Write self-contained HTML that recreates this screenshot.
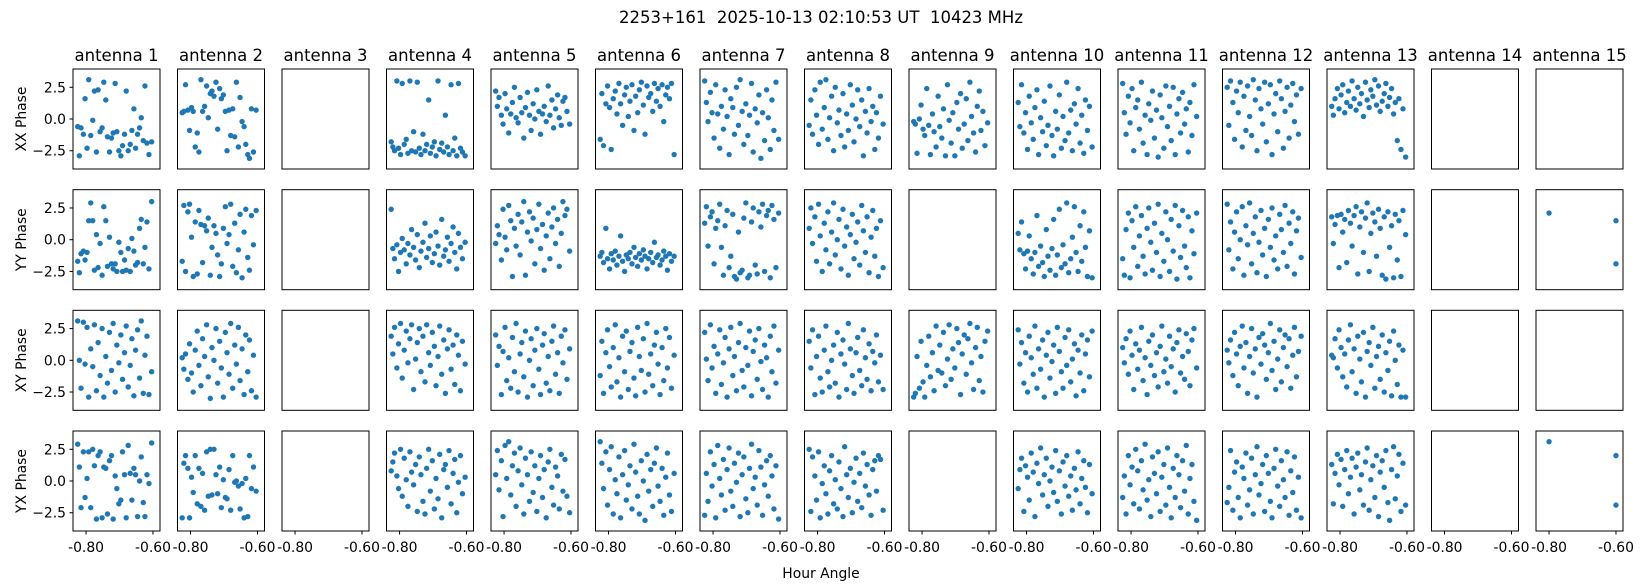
<!DOCTYPE html>
<html><head><meta charset="utf-8">
<style>
html,body{margin:0;padding:0;background:#fff;}
svg{display:block;font-family:"DejaVu Sans","Liberation Sans",sans-serif;}
</style></head>
<body>
<svg id="chart" width="1643" height="586" viewBox="0 0 1643 586" xmlns="http://www.w3.org/2000/svg">
<text x="821" y="23" font-size="16.5" text-anchor="middle" style="white-space:pre" xml:space="preserve">2253+161  2025-10-13 02:10:53 UT  10423 MHz</text>
<text x="821" y="578" font-size="13.9" text-anchor="middle">Hour Angle</text>
</svg>
<script>
const antennas = ["antenna 1","antenna 2","antenna 3","antenna 4","antenna 5","antenna 6","antenna 7","antenna 8","antenna 9","antenna 10","antenna 11","antenna 12","antenna 13","antenna 14","antenna 15"];
const rowLabels = ["XX Phase","YY Phase","XY Phase","YX Phase"];
const xTicks = [-0.80, -0.60];
const xTickLabels = ["-0.80","-0.60"];
const yTicks = [2.5, 0.0, -2.5];
const yTickLabels = ["2.5","0.0","\u22122.5"];
const times = [-0.825,-0.820,-0.815,-0.808,-0.803,-0.797,-0.792,-0.786,-0.780,-0.775,-0.769,-0.764,-0.758,-0.752,-0.747,-0.741,-0.736,-0.730,-0.724,-0.719,-0.713,-0.708,-0.702,-0.696,-0.691,-0.685,-0.680,-0.674,-0.668,-0.663,-0.657,-0.652,-0.646,-0.640,-0.635,-0.629,-0.624,-0.618,-0.612,-0.604];
const ant15Times = [-0.80,-0.60,-0.60];
const ant15YY = [2.1,1.5,-1.9];
const ant15YX = [3.1,2.0,-1.9];

const xxPhase = [
[-0.6,-2.9,-0.7,-1.2,1.6,-2.3,3.1,-1.3,-0.1,2.2,-2.6,2.3,-1.0,-0.7,2.9,1.5,-1.4,-2.6,-1.5,-1.1,2.8,-1.0,-2.5,-2.9,-2.1,-1.2,2.2,-2.5,-2.0,-0.9,0.8,-2.3,-1.2,-0.7,0.1,-1.7,2.6,-1.9,-2.8,-1.8],
[0.5,0.6,2.7,0.7,-0.9,0.9,0.6,-2.2,-1.1,-2.6,3.1,0.6,1.0,2.6,0.1,2.0,2.2,1.8,2.9,-0.8,2.4,1.6,1.9,0.6,-2.5,0.7,-1.3,0.8,-1.4,2.9,-2.2,1.7,-0.2,-0.6,-2.0,-2.8,-3.1,0.8,-2.6,0.7],
null,
[-1.8,-2.2,-2.5,3.0,-2.3,-2.8,2.8,-2.0,-1.6,-2.7,3.0,-2.5,-1.0,-2.6,2.9,-2.3,-2.8,-1.2,-2.5,-2.0,1.5,-2.7,-2.2,-1.8,-2.9,3.0,-2.4,-1.9,-2.6,0.3,-2.2,-2.8,2.7,-2.5,-1.5,-2.9,2.8,-2.3,-2.6,-2.9],
[2.2,1.0,1.7,0.3,-0.4,2.0,0.8,-1.1,0.4,1.3,2.5,0.1,-0.3,1.7,0.5,-1.5,0.9,2.1,0.3,-0.9,1.2,0.0,2.3,0.6,-1.2,0.4,1.0,-0.2,2.6,0.3,1.5,-0.7,0.8,1.9,0.1,-0.5,1.4,1.7,0.6,-0.4],
[-1.6,2.0,-2.1,1.2,2.6,0.9,-2.4,1.6,2.2,0.4,2.8,1.2,-0.5,1.9,2.5,0.2,1.4,2.7,-0.9,1.8,0.5,2.3,2.9,1.1,-1.2,2.6,1.7,2.0,0.6,2.8,1.4,2.4,1.0,2.7,-0.2,1.9,2.5,1.6,2.8,-2.8],
[3.0,1.3,-0.2,2.1,0.5,-1.5,2.7,0.4,-2.3,1.0,-0.8,2.3,0.2,-2.8,1.6,0.9,-1.2,2.5,-0.5,3.1,0.6,-2.0,1.2,-1.3,0.3,2.8,-2.6,0.8,-0.3,1.9,-3.1,0.5,-1.7,2.3,0.1,-2.4,1.5,-0.9,2.9,-1.6],
[-0.5,1.5,-1.2,2.3,0.3,-2.0,2.9,-0.8,0.9,3.1,-1.6,0.1,1.8,-2.5,2.5,-0.3,0.7,-1.3,2.0,-2.2,0.4,-0.9,2.7,1.1,-1.8,0.0,2.3,-0.6,1.5,-2.9,0.6,-1.1,2.4,-0.2,1.0,-2.4,0.5,-1.5,1.8,-0.4],
[-0.2,-0.4,-2.7,0.0,1.1,-0.8,-1.3,2.4,-0.5,-2.8,0.4,-1.0,-2.2,1.8,-0.6,-1.5,0.8,-2.9,2.7,-0.1,-1.9,0.5,-2.9,1.3,-0.8,2.0,-2.3,-0.4,1.6,-1.7,2.9,0.2,-1.1,-2.6,1.0,2.2,-0.9,0.6,-2.1,-0.3],
[1.3,-0.6,2.7,-1.1,0.5,-2.4,1.8,-0.3,-1.6,0.9,2.3,-2.8,0.1,-1.0,1.4,-2.1,-0.5,2.6,-1.3,-2.9,0.6,-0.8,1.9,-2.3,0.2,-1.7,2.9,-1.1,0.7,-2.5,1.2,-0.4,2.4,-1.9,0.3,-2.7,1.5,-0.9,1.0,-2.2],
[2.8,0.5,-1.2,1.8,-0.3,2.4,-2.5,0.9,1.5,-0.8,2.9,-1.9,0.3,-2.8,1.2,-0.1,2.2,-1.5,0.7,-3.0,1.9,0.1,-2.3,2.6,-0.6,1.0,-1.7,2.5,-2.8,0.4,1.6,-1.1,2.1,-0.4,0.8,-2.6,1.3,-1.3,2.7,0.2],
[2.5,-0.5,3.0,1.3,-1.6,2.2,0.5,2.9,-2.2,1.8,-0.9,2.6,0.2,-1.3,3.1,1.5,-2.5,2.4,0.8,-0.4,2.9,-1.8,1.2,2.7,-2.8,0.4,2.0,-1.0,3.0,1.6,-2.3,0.6,2.5,-1.5,1.1,2.8,-0.2,1.9,-1.2,2.4],
[1.0,0.3,1.6,2.4,0.8,1.9,2.7,0.5,1.3,2.2,1.0,3.0,1.6,0.7,2.5,1.2,2.0,0.2,2.9,1.5,0.9,2.3,1.8,3.1,1.1,2.6,0.6,1.4,2.0,2.8,1.0,1.7,2.4,0.4,1.3,-1.7,1.6,-2.4,0.8,-3.0],
null, null];

const yyPhase = [
[-1.7,-2.6,-1.1,-0.9,-1.6,-1.0,1.5,2.9,1.5,-2.4,0.4,-2.2,-0.3,-2.8,2.6,1.5,-2.1,0.2,-1.9,-2.3,-1.9,-2.5,-0.2,-1.0,-2.5,-1.6,-2.4,-0.7,-2.5,0.1,-0.9,-2.0,-1.8,0.9,1.6,-1.9,-0.6,1.4,-2.3,3.0],
[-1.7,2.7,-2.5,2.2,2.8,0.2,-2.9,1.4,-2.7,2.3,1.2,-1.8,1.1,0.7,1.7,-2.8,-0.6,1.1,0.5,-1.2,-2.9,-1.9,0.9,2.6,-0.3,0.4,2.8,-2.1,1.3,-2.6,-0.8,2.0,-3.0,0.6,2.4,-1.4,-2.4,1.9,-0.4,2.3],
null,
[2.4,-0.7,-1.5,-0.4,-2.5,-1.0,0.1,-0.8,-1.9,-0.3,-1.2,0.8,-0.6,-1.6,0.4,-2.2,-0.9,-0.2,1.3,-1.4,-0.7,0.3,-1.8,-1.1,0.6,-0.5,-2.0,1.6,-1.3,-0.8,0.2,-1.7,-0.3,1.0,-1.0,-2.3,0.5,-0.6,-1.5,-0.2],
[-0.3,1.1,0.4,-1.6,2.4,0.2,-0.8,2.7,1.5,-2.9,0.9,-0.5,2.0,-1.2,1.4,3.0,-2.8,0.6,2.2,-0.1,1.7,-1.9,0.8,2.8,-0.7,1.2,-2.4,0.3,2.1,-1.5,1.0,2.5,-0.3,1.6,-2.1,0.5,3.0,1.9,2.4,-0.9],
[-1.3,-1.0,-1.8,0.9,-1.5,-2.3,-1.1,-1.6,-0.9,-2.0,-1.3,0.3,-1.7,-2.5,-1.2,-1.5,-1.0,-1.9,-0.6,-1.4,-2.1,-1.1,-1.6,-0.8,-1.3,-2.3,-1.5,-1.0,-1.8,-0.2,-1.4,-1.2,-2.0,-1.6,-0.9,-1.3,-2.4,-1.1,-1.7,-1.3],
[1.3,2.6,-0.5,1.8,2.2,-1.9,0.9,1.5,2.8,-0.6,-2.8,1.1,2.3,-2.2,-1.3,2.0,-2.9,-3.1,0.6,-2.6,-2.4,1.7,2.9,-3.0,-2.8,1.4,2.5,-2.0,-2.7,2.2,1.0,2.8,-2.5,1.9,2.3,-3.0,2.7,1.6,-2.2,2.1],
[0.9,2.5,-0.3,1.8,-1.7,2.8,0.3,-2.5,1.3,-0.8,2.2,-1.9,0.6,2.9,-1.2,0.0,1.6,-2.3,2.4,-0.5,1.0,-2.8,0.4,2.0,-1.5,-0.2,1.4,-2.0,2.7,0.7,-1.0,1.8,-2.6,0.2,2.3,-1.3,0.9,-2.9,1.5,-2.2],
null,
[0.5,-0.8,1.4,-1.1,-2.3,-0.9,0.3,-1.5,-2.7,-1.0,1.9,-2.1,-0.5,-1.8,-2.9,0.8,-1.3,-2.4,-0.7,1.6,-2.8,-1.2,2.4,-2.2,-0.4,-1.9,2.9,-2.6,-1.5,0.2,2.6,-1.0,-2.5,1.1,-1.7,2.2,-0.6,-2.9,0.7,-3.0],
[-1.5,-2.8,0.8,2.1,-3.0,1.5,-0.6,2.6,-2.1,0.3,1.9,-1.3,-2.7,0.9,2.5,-0.2,-2.4,1.3,-1.0,2.8,-2.9,0.5,-1.7,2.2,0.0,-2.5,1.6,-0.9,2.7,-3.1,1.1,-1.4,2.3,-0.5,-2.2,1.8,-3.0,0.7,-1.1,2.1],
[2.8,-0.8,1.4,-2.3,0.6,2.2,-1.5,0.0,2.6,-2.8,1.1,-0.4,2.9,-1.9,0.5,1.8,-2.6,-0.2,2.3,-1.2,0.9,-2.9,1.6,-0.6,2.5,-1.6,0.3,-2.3,2.0,0.8,-1.0,2.7,-2.1,1.3,-0.3,2.2,-2.7,0.7,1.7,-1.4],
[1.8,-0.3,1.2,1.9,-2.2,2.0,0.6,1.6,-1.8,2.3,1.3,-0.5,1.9,2.6,-2.7,1.0,2.2,-1.0,1.7,2.9,-2.5,0.5,2.1,1.4,-1.3,2.4,0.9,-2.8,1.8,-3.1,2.2,-0.6,1.1,-3.0,2.0,-1.6,1.5,-2.9,2.3,0.4],
null, "ant15"];

const xyPhase = [
[3.1,0.0,-2.2,3.0,-0.3,2.6,-2.9,0.9,-0.5,2.8,-2.4,1.4,-1.2,2.5,-2.9,0.3,-1.8,2.2,-0.8,2.9,-2.5,1.2,-0.2,2.0,-1.5,0.6,2.7,-2.1,-0.4,1.7,-2.8,0.8,2.4,-1.4,3.1,-2.6,0.4,1.9,-2.7,-0.9],
[0.2,-0.7,0.5,-1.5,1.3,-1.0,-2.5,0.8,2.3,-0.4,-2.0,1.7,0.3,2.8,-1.3,-3.0,1.0,0.0,2.5,-1.8,1.5,-0.6,-2.9,2.2,0.6,-1.1,2.9,-2.2,1.2,-0.3,2.6,-1.6,0.9,-2.7,2.0,-0.9,1.6,-2.4,0.4,-2.9],
null,
[1.9,0.5,2.6,-0.6,1.3,2.9,-1.4,0.8,2.3,-0.2,1.7,2.8,-2.3,0.1,1.4,2.5,-0.9,1.9,-1.7,2.8,0.6,-0.4,2.2,1.1,-2.0,0.3,2.7,-1.1,1.6,-2.6,0.9,2.4,-0.7,1.2,-1.9,2.0,0.4,-2.4,1.5,-0.3],
[2.0,-0.4,1.1,-2.7,0.7,2.6,-1.6,0.2,-2.2,1.8,-0.9,2.9,-2.5,0.5,1.4,-1.3,2.3,-2.9,0.0,1.7,-2.0,0.8,2.5,-0.7,-2.7,1.2,2.1,-1.8,0.3,-2.4,1.5,2.7,-1.1,0.6,-2.6,1.9,-0.2,2.4,-1.5,0.9],
[-1.2,1.5,-2.6,0.6,2.4,-0.5,-2.1,1.0,2.8,-1.7,0.2,-2.9,1.9,-0.9,2.3,-2.3,0.7,1.4,-1.4,-2.8,2.6,0.3,-0.8,1.7,-2.5,2.9,-1.1,0.5,-2.0,1.2,2.2,-0.3,-2.7,1.0,-1.6,2.5,-0.6,1.8,-2.2,0.4],
[2.2,0.1,-1.6,2.8,-0.6,1.1,-2.6,0.5,2.4,-1.9,-0.2,1.8,-2.9,0.9,2.6,-1.2,0.3,-2.4,1.4,2.9,-0.8,-2.1,1.0,-0.4,2.3,-2.8,0.7,1.6,-1.5,2.5,-0.1,-2.3,1.2,0.2,-2.9,1.9,-0.9,2.7,-1.8,0.8],
[1.5,-0.6,2.4,-2.7,0.3,1.9,-1.4,-2.5,0.8,2.7,-0.9,-2.1,0.0,1.2,-1.8,2.2,-2.9,0.5,1.6,-0.3,-2.3,2.9,0.9,-1.2,-2.6,0.6,1.8,-0.8,-2.0,2.4,0.2,-1.5,1.3,-2.4,0.7,-0.2,2.0,-1.7,0.4,-2.3],
[-2.9,-2.6,0.3,-2.2,1.5,-1.7,-2.9,-0.4,1.9,-1.3,0.6,-2.4,2.7,-0.8,1.2,-1.0,2.2,-2.0,0.1,2.8,-1.5,0.9,-0.6,2.5,1.4,-2.7,0.5,2.0,-1.1,1.7,2.9,-0.2,-2.3,1.0,2.6,-1.6,0.3,-2.5,1.5,2.3],
[2.4,-0.3,1.4,-1.8,0.6,-2.5,1.9,0.2,-1.1,2.7,-2.2,0.9,-0.7,1.6,-2.9,0.4,2.2,-1.4,-0.1,1.2,-2.6,2.6,0.7,-0.9,-2.2,1.8,-0.4,2.4,-1.7,0.1,1.3,-2.8,0.8,-1.0,2.0,-2.4,0.5,1.6,-1.3,2.3],
[1.0,-0.2,1.7,-1.1,2.3,0.4,-2.3,1.3,-0.7,0.8,2.6,-1.6,0.2,-2.7,1.5,-0.4,2.0,-1.2,0.6,-2.1,1.1,2.7,-0.9,0.1,-1.8,1.9,-0.5,0.9,-2.5,1.4,2.4,-1.0,0.3,-1.5,2.1,0.7,-2.0,1.6,2.5,-0.6],
[0.8,-0.2,1.6,-1.2,2.2,0.5,-2.0,1.1,2.7,-0.6,1.4,-2.6,0.3,2.5,-1.0,0.9,-2.9,1.8,-0.3,2.1,1.2,-1.5,0.6,2.9,-0.8,1.5,-2.3,0.1,2.4,-1.7,1.0,2.0,-0.5,1.7,-2.2,0.4,2.6,-1.3,0.7,1.9],
[0.4,0.2,1.7,-0.6,2.4,1.0,-1.3,0.5,-2.1,1.6,2.8,-0.9,0.9,-2.6,1.9,0.1,-1.7,2.2,-2.9,0.7,1.4,-0.4,2.6,-2.2,0.3,1.1,-1.5,2.0,-2.5,0.6,-0.8,1.5,-2.8,2.3,0.0,-1.9,1.2,-2.9,0.8,-2.9],
null, null];

const yxPhase = [
[2.9,1.1,-2.1,2.3,-1.3,0.2,2.3,-2.1,2.5,1.2,-3.0,2.0,2.3,-2.9,1.1,1.0,-2.6,1.6,2.0,-3.0,0.4,-0.6,-1.8,-1.5,2.3,0.5,-2.9,2.8,0.6,-1.5,1.0,0.5,-2.8,0.0,1.9,-1.7,-2.8,0.5,-0.2,3.0],
[-2.9,1.4,2.0,1.0,-2.9,0.3,-0.9,2.0,-1.8,1.0,-2.0,0.6,-2.3,2.3,-1.2,2.5,-1.1,2.5,0.5,-1.0,1.1,-2.1,0.1,-1.3,-1.4,0.9,-2.3,2.0,-0.1,0.0,-0.4,-2.2,-0.2,-2.9,0.2,-2.8,2.0,-0.6,1.1,-0.8],
null,
[0.8,1.5,2.2,0.4,-0.6,2.5,-1.2,1.8,0.1,-2.0,2.3,0.7,-0.3,1.3,-2.4,1.9,0.5,-1.6,-2.6,1.0,2.5,-0.8,1.6,-2.2,0.2,-1.4,2.1,-2.9,0.9,1.3,-0.5,2.4,-1.8,0.6,1.7,-2.5,-0.1,2.0,-1.0,0.3],
[0.5,2.4,-0.7,1.6,-2.8,2.8,0.2,3.1,-1.1,1.2,2.2,-2.0,0.8,2.6,-0.3,-2.6,1.8,0.5,-1.6,2.3,-0.9,1.2,-2.4,0.2,2.0,-1.3,0.9,-2.9,1.5,2.5,-0.5,-1.9,1.1,0.4,-2.2,2.1,-0.8,1.7,-1.2,-2.5],
[3.1,1.4,-0.6,2.3,-1.9,0.9,2.7,-2.6,0.1,-1.0,1.9,-2.9,0.5,2.4,-1.5,-0.3,1.2,-2.2,2.9,0.7,-1.2,-2.6,1.6,0.0,-3.1,2.1,-0.8,0.9,-2.0,1.4,2.6,-0.4,-1.6,1.0,-2.7,0.3,2.2,-1.1,-2.4,0.6],
[-2.7,0.6,-1.6,2.3,-0.4,1.3,-2.9,2.8,0.2,-1.1,1.7,-2.3,0.9,2.6,-0.8,-2.0,1.4,-0.1,2.2,-2.8,0.5,1.9,-1.4,-2.5,1.0,2.9,-0.6,0.3,-1.9,2.4,1.1,-2.7,-0.3,1.6,-1.2,2.0,0.4,-2.2,1.2,-3.0],
[2.5,-2.4,1.9,0.4,-1.5,2.3,-2.9,-0.2,1.2,-1.0,-2.6,0.8,2.0,-1.8,0.1,-2.2,1.5,-0.6,-2.8,2.7,0.5,-1.3,1.0,-2.5,-0.1,1.8,-1.6,0.6,-2.1,2.2,-0.4,1.3,-1.1,-2.7,0.9,1.6,-0.8,2.0,1.7,-2.3],
null,
[-0.6,0.9,1.8,-2.4,1.2,0.3,-1.5,2.2,0.7,-2.8,1.4,-0.2,2.6,-1.1,0.5,1.8,-2.0,0.0,1.1,-0.9,2.4,-1.6,0.8,-2.6,1.5,-0.4,2.0,-1.2,0.4,-2.3,1.0,-0.7,2.3,-1.8,0.2,1.6,-0.5,-2.5,1.3,-1.0],
[-1.3,0.4,-2.6,2.0,-0.3,1.1,-1.8,2.5,0.8,-2.2,1.6,-0.7,2.9,-1.5,0.1,-2.8,1.9,0.6,-1.0,2.3,-2.4,0.3,1.3,-1.9,2.6,-0.5,-2.9,1.0,-1.3,2.0,0.5,-2.1,1.6,-0.8,2.8,-2.6,0.2,1.3,-1.6,-3.1],
[-1.7,-0.5,2.4,-2.3,0.7,1.5,-1.3,-2.9,1.1,0.2,2.2,-1.9,-0.7,1.8,-2.6,0.5,2.7,-1.1,-0.2,1.3,-2.4,2.0,0.6,-1.6,-2.9,1.0,2.5,-0.4,-2.0,1.6,0.1,-1.3,2.3,-2.7,0.8,-0.9,1.9,-2.3,0.3,-2.9],
[1.3,-1.8,0.6,2.1,-0.3,1.7,-2.0,0.9,2.4,-1.0,0.3,1.8,-2.6,1.1,2.2,-0.7,0.5,-1.9,1.5,2.6,-2.3,0.1,1.2,-1.3,2.0,-2.8,0.7,1.6,-0.5,2.4,-1.7,-3.1,0.9,2.7,-1.4,0.4,2.1,-2.4,1.4,-1.9],
null, "ant15"];

const rowsData = [xxPhase, yyPhase, xyPhase, yxPhase];
const ant15Rows = [null, ant15YY, null, ant15YX];

const NS = "http://www.w3.org/2000/svg";
const svg = document.getElementById("chart");
const L0 = 73, PITCH = 104.5, PW = 87, PH = 100;
const ROW_TOPS = [69, 189.7, 310.3, 431];
const XMIN = -0.839, XMAX = -0.579, YMIN = -3.94, YMAX = 3.94;
function xScale(col, v){ return L0 + col*PITCH + (v - XMIN)/(XMAX - XMIN)*PW; }
function yScale(row, v){ return ROW_TOPS[row] + (YMAX - v)/(YMAX - YMIN)*PH; }
function mk(tag, attrs){ const e = document.createElementNS(NS, tag); for (const k in attrs) e.setAttribute(k, attrs[k]); return e; }

antennas.forEach((name, c) => {
  const t = mk("text", {x: L0 + c*PITCH + PW/2, y: 61, "font-size": 16.5, "text-anchor": "middle"});
  
  
  t.textContent = name;
  svg.appendChild(t);
});

rowLabels.forEach((lab, r) => {
  const cy = ROW_TOPS[r] + PH/2;
  const t = mk("text", {x: 22, y: cy, "font-size": 13.9, "text-anchor": "middle", transform: `rotate(-90 22 ${cy})`, "dominant-baseline": "middle"});
  
  
  t.textContent = lab;
  svg.appendChild(t);
  yTicks.forEach((v, i) => {
    const y = yScale(r, v);
    const tk = mk("line", {x1: L0 - 3.5, x2: L0, y1: y, y2: y, stroke: "#000", "stroke-width": 1});
    
    
    svg.appendChild(tk);
    const tl = mk("text", {x: L0 - 7, y: y + 5, "font-size": 13.9, "text-anchor": "end"});
    
    
    tl.textContent = yTickLabels[i];
    svg.appendChild(tl);
  });
});

for (let r = 0; r < 4; r++) {
  for (let c = 0; c < 15; c++) {
    const g = mk("g", {});
    
    
    const box = mk("rect", {x: L0 + c*PITCH, y: ROW_TOPS[r], width: PW, height: PH, fill: "none", stroke: "#000", "stroke-width": 1});
    
    
    g.appendChild(box);
    let ys = rowsData[r][c], xs = times;
    if (ys === "ant15") { ys = ant15Rows[r]; xs = ant15Times; }
    if (ys) {
      ys.forEach((v, i) => {
        const p = mk("circle", {cx: xScale(c, xs[i]), cy: yScale(r, v), r: 2.7, fill: "#1f77b4"});
        
        
        g.appendChild(p);
      });
    }
    svg.appendChild(g);
    if (r === 3) {
      xTicks.forEach((v, i) => {
        const x = xScale(c, v), yb = ROW_TOPS[3] + PH;
        const tk = mk("line", {x1: x, x2: x, y1: yb, y2: yb + 3.5, stroke: "#000", "stroke-width": 1});
        
        
        svg.appendChild(tk);
        const tl = mk("text", {x: x, y: yb + 21, "font-size": 13.9, "text-anchor": "middle"});
        
        
        tl.textContent = xTickLabels[i];
        svg.appendChild(tl);
      });
    }
  }
}
</script>
</body></html>
